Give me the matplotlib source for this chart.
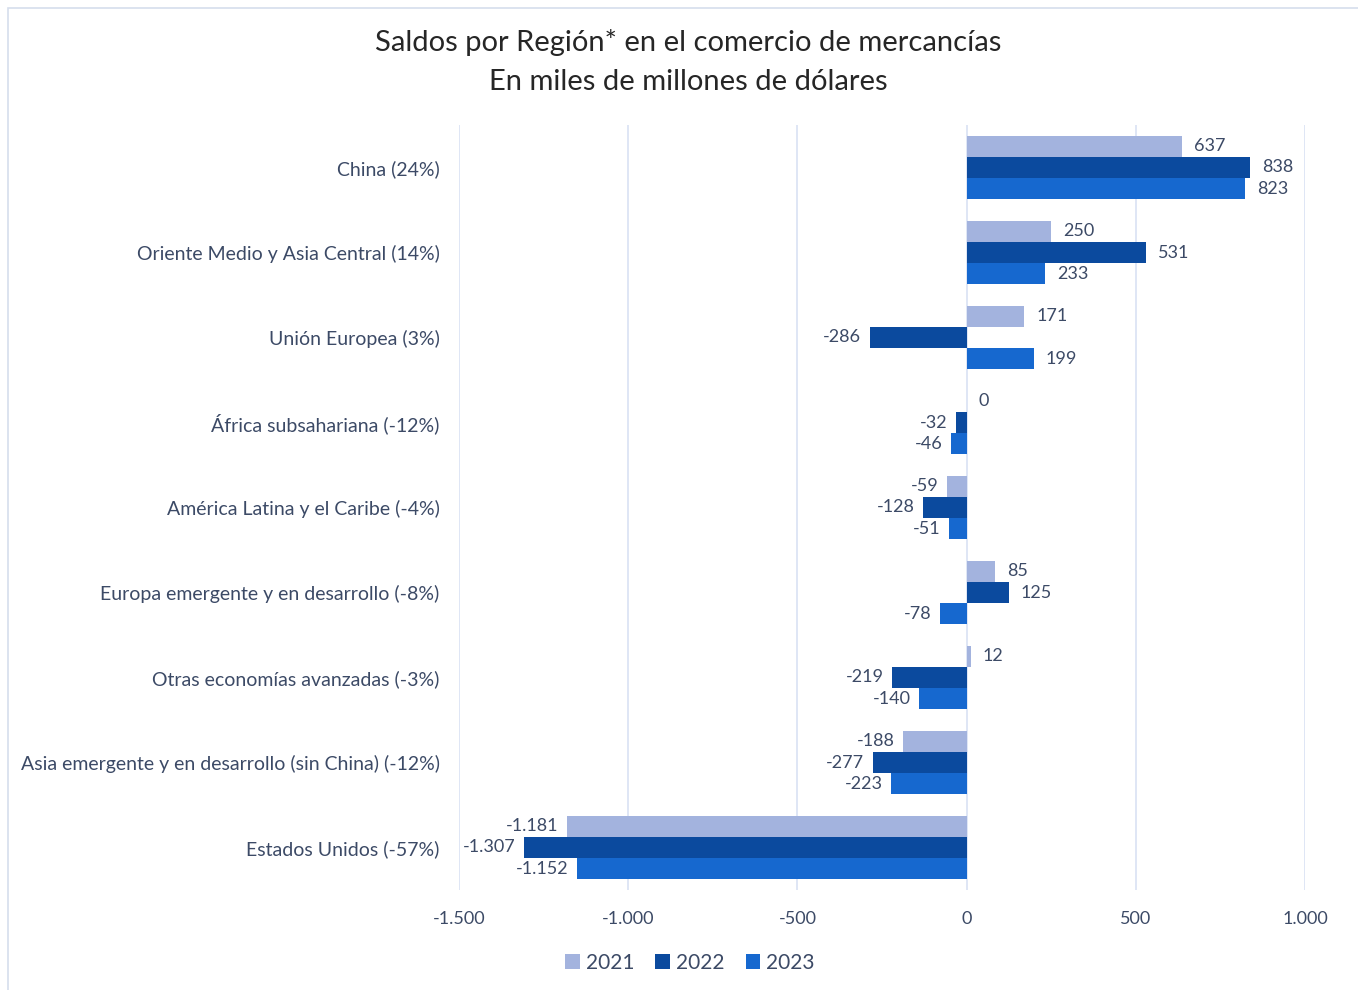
import matplotlib
matplotlib.use("Agg")
import matplotlib.pyplot as plt
from matplotlib.patches import Rectangle
from matplotlib.ticker import FuncFormatter

categories = ["China (24%)", "Oriente Medio y Asia Central (14%)", "Unión Europea (3%)",
              "África subsahariana (-12%)", "América Latina y el Caribe (-4%)",
              "Europa emergente y en desarrollo (-8%)", "Otras economías avanzadas (-3%)",
              "Asia emergente y en desarrollo (sin China) (-12%)", "Estados Unidos (-57%)"]
years = ["2021", "2022", "2023"]
v2021 = [637, 250, 171, 0, -59, 85, 12, -188, -1181]
v2022 = [838, 531, -286, -32, -128, 125, -219, -277, -1307]
v2023 = [823, 233, 199, -46, -51, -78, -140, -223, -1152]
xticks = [-1500, -1000, -500, 0, 500, 1000]

colors = ["#A3B3DE", "#0B4A9E", "#1668CF"]
text_col = "#3C4A66"

plt.rcParams['font.family'] = ['Lato', 'DejaVu Sans']

fig = plt.figure(figsize=(13.58, 9.9), dpi=100)
ax = fig.add_axes([459/1358, 1 - 890/990, (1305-459)/1358, (890-125)/990])

def fmt(v):
    s = f"{abs(int(v)):,}".replace(",", ".")
    return ("-" if v < 0 else "") + s

h = 0.25
series = [v2021, v2022, v2023]
offsets = [-h, 0, h]
for s, vals, off, c in zip(years, series, offsets, colors):
    ys = [i + off for i in range(len(categories))]
    ax.barh(ys, vals, height=h, color=c, label=s, zorder=3)
    for y, v in zip(ys, vals):
        if v >= 0:
            ax.text(v + 35, y, fmt(v), ha='left', va='center', fontsize=13, color=text_col)
        else:
            ax.text(v - 25, y, fmt(v), ha='right', va='center', fontsize=13, color=text_col)

ax.set_xlim(-1500, 1000)
ax.set_ylim(len(categories) - 0.5, -0.5)
ax.set_xticks(xticks)
ax.xaxis.set_major_formatter(FuncFormatter(lambda x, p: fmt(x)))
ax.set_yticks(range(len(categories)))
ax.set_yticklabels(categories)
ax.tick_params(axis='both', length=0, labelsize=13, colors=text_col)
ax.tick_params(axis='y', pad=14, labelsize=14)
ax.tick_params(axis='x', pad=15)
ax.grid(axis='x', color="#D9E2F3", linewidth=1.2, zorder=0)
for sp in ax.spines.values():
    sp.set_visible(False)

fig.text(688/1358, 1 - 43/990, "Saldos por Región* en el comercio de mercancías",
         ha='center', va='center', fontsize=21, color="#262626")
fig.text(688/1358, 1 - 82/990, "En miles de millones de dólares",
         ha='center', va='center', fontsize=21, color="#262626")

leg = fig.legend(loc='center', bbox_to_anchor=(690/1358, 1 - 963/990), ncol=3, frameon=False,
                 fontsize=15, handlelength=0.7, handleheight=0.7, handletextpad=0.3,
                 columnspacing=1.0)
for t in leg.get_texts():
    t.set_color(text_col)

fig.patches.append(Rectangle((8/1358, -0.01), 1.0, 1 - 8/990 + 0.01, transform=fig.transFigure,
                             fill=False, edgecolor="#D6DEEC", linewidth=1.2))

fig.savefig("out.png", dpi=100, facecolor="white")
